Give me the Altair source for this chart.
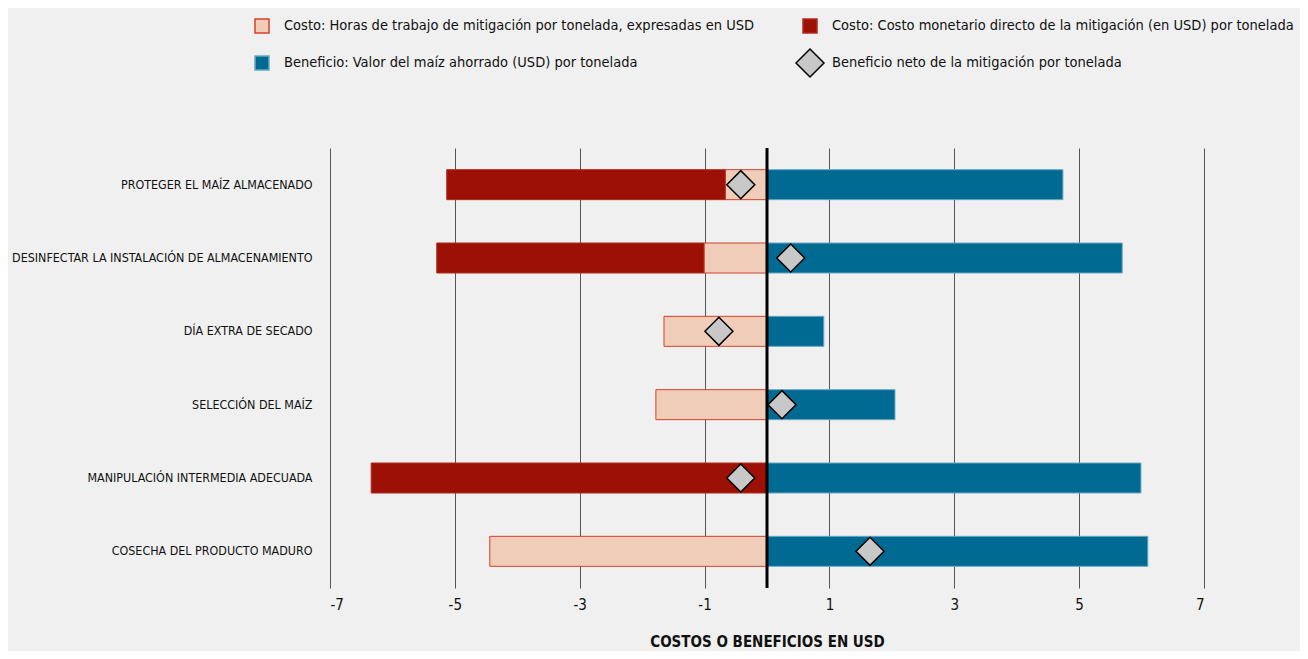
import altair as alt
import pandas as pd

categories = [
    "PROTEGER EL MAÍZ ALMACENADO",
    "DESINFECTAR LA INSTALACIÓN DE ALMACENAMIENTO",
    "DÍA EXTRA DE SECADO",
    "SELECCIÓN DEL MAÍZ",
    "MANIPULACIÓN INTERMEDIA ADECUADA",
    "COSECHA DEL PRODUCTO MADURO",
]
labor_cost = [-0.67, -1.01, -1.65, -1.78, 0.0, -4.44]
direct_cost = [-4.46, -4.28, 0.0, 0.0, -6.34, 0.0]
benefit = [4.74, 5.69, 0.91, 2.05, 5.99, 6.10]
net_benefit = [-0.42, 0.38, -0.77, 0.24, -0.42, 1.65]
tick_values = [-7, -5, -3, -1, 1, 3, 5, 7]

S1 = "Costo: Horas de trabajo de mitigación por tonelada, expresadas en USD"
S2 = "Costo: Costo monetario directo de la mitigación (en USD) por tonelada"
S3 = "Beneficio: Valor del maíz ahorrado (USD) por tonelada"
S4 = "Beneficio neto de la mitigación por tonelada"
series = [S1, S2, S3, S4]

FONT = "DejaVu Sans Condensed, sans-serif"

rows = []
for c, l, d, b in zip(categories, labor_cost, direct_cost, benefit):
    if l != 0:
        rows.append({"cat": c, "series": S1, "x": 0.0, "x2": l})
    if d != 0:
        rows.append({"cat": c, "series": S2, "x": l, "x2": l + d})
    rows.append({"cat": c, "series": S3, "x": 0.0, "x2": b})
bars_df = pd.DataFrame(rows)
net_df = pd.DataFrame({"cat": categories, "series": S4, "x": net_benefit})
zero_df = pd.DataFrame({"x": [0]})

x_scale = alt.Scale(domain=[-7, 7], nice=False, zero=False)
y_enc = alt.Y(
    "cat:N",
    sort=categories,
    axis=alt.Axis(
        title=None, domain=False, ticks=False, grid=False, labelPadding=18,
        labelFontSize=12.4, labelFont=FONT, labelColor="#111", labelLimit=500,
    ),
)

color_scale = alt.Scale(domain=series, range=["#f0cdb9", "#9c1006", "#006a93", "#c8c8c8"])
stroke_scale = alt.Scale(domain=series, range=["#d6402a", "#b02a1e", "#6aa8c4", "#000000"])

shape_sig = "datum.value === '" + S4 + "' ? 'diamond' : 'square'"
size_sig = "datum.value === '" + S4 + "' ? 784 : 196"
stroke_sig = ("datum.value === '" + S1 + "' ? '#d6402a' : (datum.value === '" + S4 +
              "' ? '#000000' : 'transparent')")

legend = alt.Legend(
    title=None, orient="none", legendX=-76, legendY=-130, direction="horizontal",
    columns=2, columnPadding=38, rowPadding=10, labelOffset=14,
    labelFontSize=14.5, labelFont=FONT, labelColor="#111", labelLimit=700,
    symbolOpacity=1,
    symbolType=alt.ExprRef(expr=shape_sig),
    symbolSize=alt.ExprRef(expr=size_sig),
    symbolStrokeColor=alt.ExprRef(expr=stroke_sig),
    symbolStrokeWidth=1.5,
)

bars = alt.Chart(bars_df).mark_bar(size=30, strokeWidth=1).encode(
    x=alt.X(
        "x:Q", scale=x_scale,
        axis=alt.Axis(
            values=tick_values, grid=True, gridColor="#555555", gridWidth=1,
            domain=False, ticks=False, labelPadding=9, labelFontSize=15,
            labelExpr="(datum.value < 0 ? '-' : '') + abs(datum.value)",
            labelFont=FONT, labelColor="#111", title="COSTOS O BENEFICIOS EN USD",
            titleFont=FONT, titleFontSize=15, titleFontWeight="bold",
            titleColor="#111", titlePadding=22,
        ),
    ),
    x2="x2:Q",
    y=y_enc,
    color=alt.Color("series:N", scale=color_scale, legend=legend),
    stroke=alt.Stroke("series:N", scale=stroke_scale, legend=None),
)

zero = alt.Chart(zero_df).mark_rule(color="black", strokeWidth=3).encode(
    x=alt.X("x:Q", scale=x_scale)
)

points = alt.Chart(net_df).mark_point(
    shape="diamond", filled=True, size=784, stroke="black", strokeWidth=1.5, opacity=1
).encode(
    x=alt.X("x:Q", scale=x_scale),
    y=y_enc,
    color=alt.Color("series:N", scale=color_scale, legend=legend),
)

chart = (
    alt.layer(bars, zero, points)
    .properties(
        width=874, height=440, background="#f0f0f0",
        autosize=alt.AutoSizeParams(type="none"),
        padding={"left": 322, "top": 140, "right": 96, "bottom": 63},
    )
    .configure_view(stroke=None)
)

chart.save("out.html", embed_options={"renderer": "svg", "actions": False})
